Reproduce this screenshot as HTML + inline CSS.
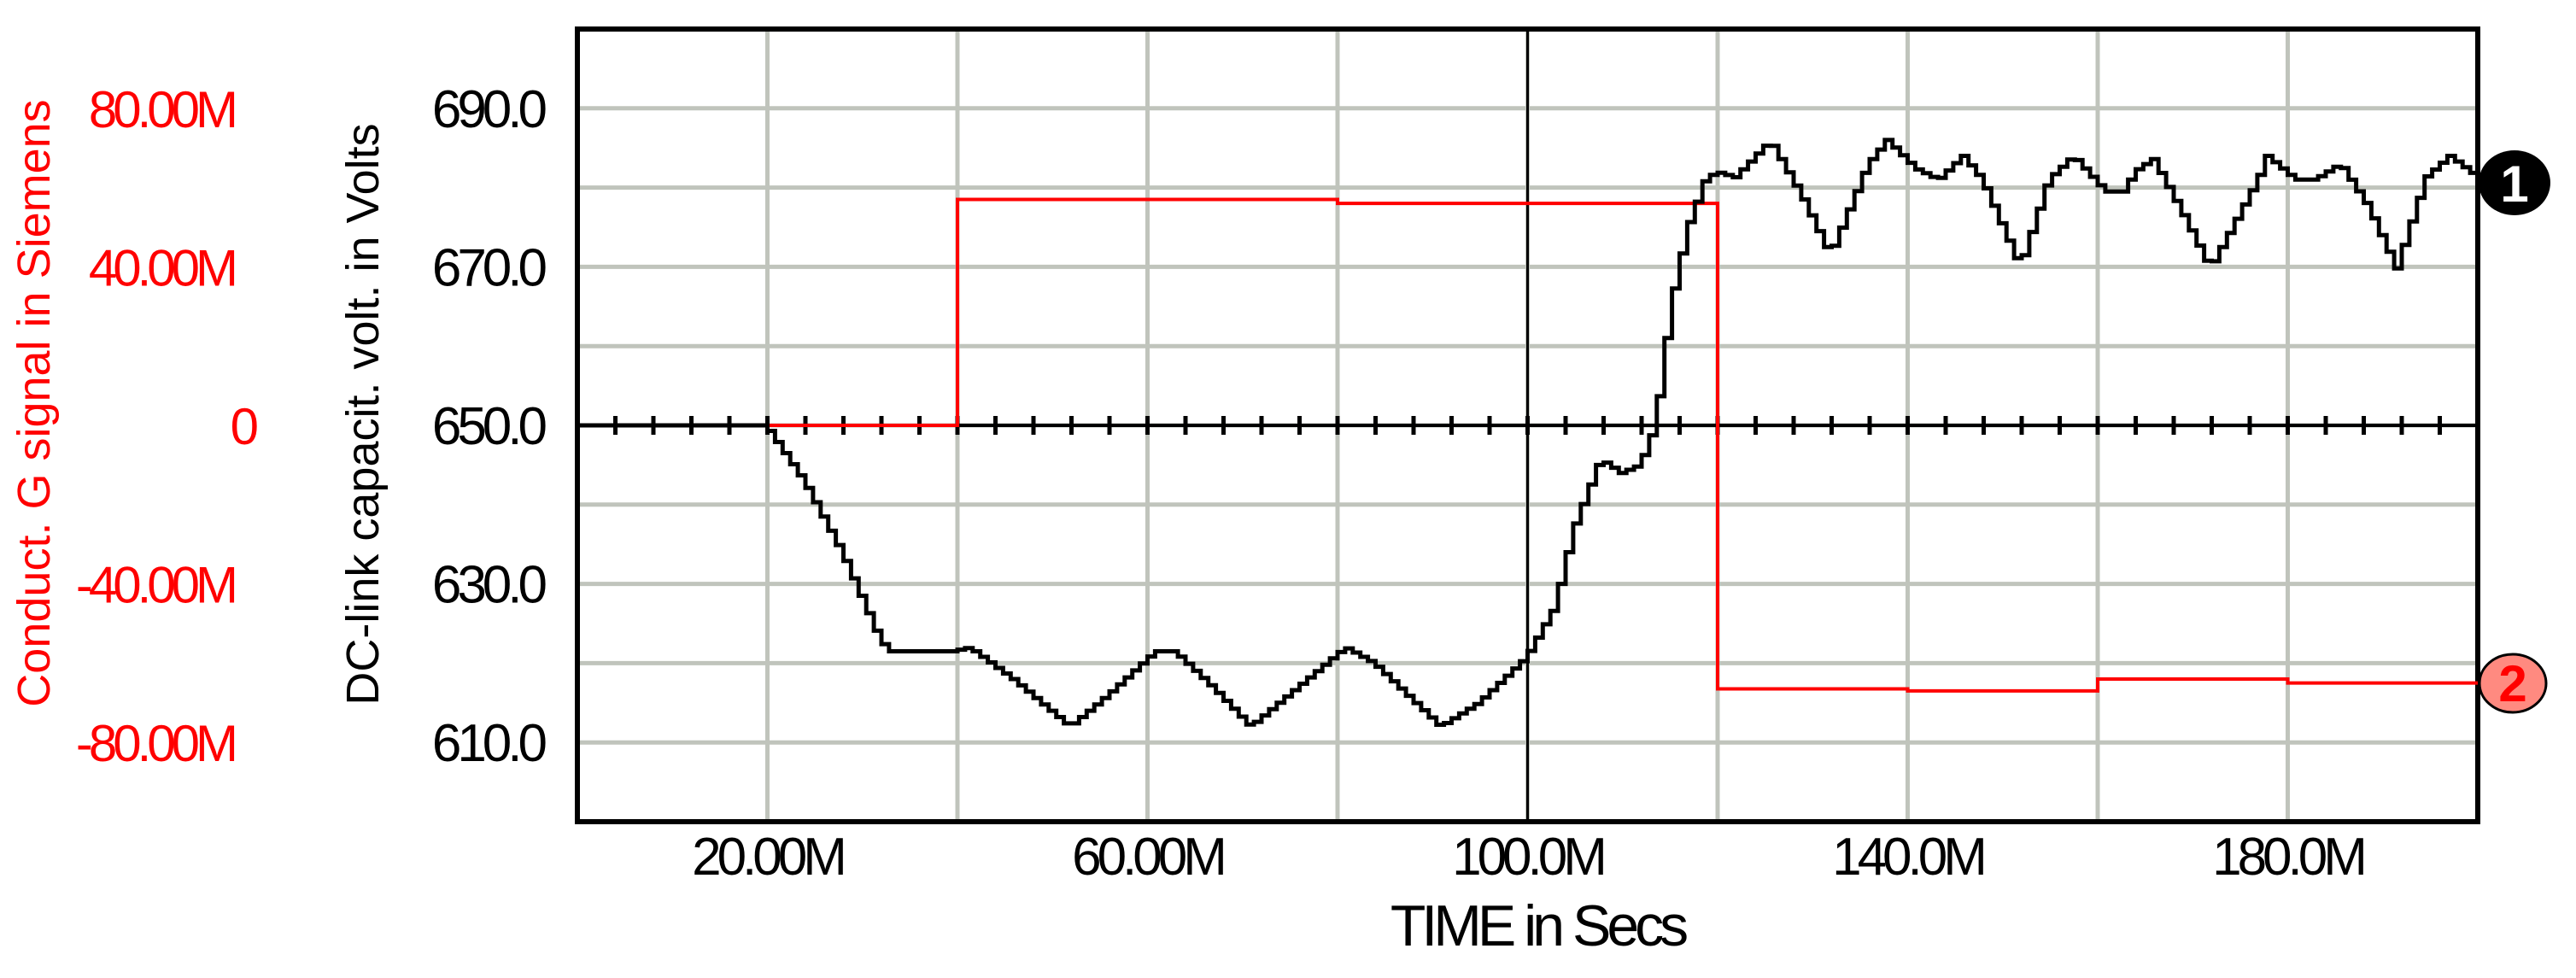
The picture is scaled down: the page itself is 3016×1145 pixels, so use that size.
<!DOCTYPE html>
<html><head><meta charset="utf-8"><style>
html,body{margin:0;padding:0;background:#fff;}
svg{display:block;font-family:"Liberation Sans",Arial,sans-serif;}
</style></head><body>
<svg id="chart" width="3016" height="1145" viewBox="0 0 3016 1145" xmlns="http://www.w3.org/2000/svg">
<g id="grid"></g>
<g id="axes"></g>
<g id="series"></g>
<g id="labels"></g>
</svg>
<script>
const xTickValues = [20, 60, 100, 140, 180];
const xTickLabels = ["20.00M", "60.00M", "100.0M", "140.0M", "180.0M"];
const vTickValues = [690, 670, 650, 630, 610];
const vTickLabels = ["690.0", "670.0", "650.0", "630.0", "610.0"];
const gTickValues = [80, 40, 0, -40, -80];
const gTickLabels = ["80.00M", "40.00M", "0", "-40.00M", "-80.00M"];
// DC-link voltage (time in ms, volts)
const voltT = [0,20,24,28,32,33,40,41,42,46,52,56,61,63,67,71,76,81,84,91,95,100,103,105,107.6,108.4,110,112,113.6,115.3,117,118.8,120,122,125.7,129,132,136,138,141,143.4,146,148,152,155,157.6,161,163,164,166,169,172,177,178,181,183,185.7,188.6,191.6,194.7,197.2,200];
const voltV = [650,650,643,634,623,621.5,621.5,622,621.5,618,612,616,621.5,621.5,617,612,617,622,620,612,615,620.7,627,637,645,645.3,644,645,650,665.6,675,680.8,682,681.3,685.9,679,671.5,683,686,682.4,681,684,681,670,681,684,679.5,679.5,682,683.6,677,669.8,681,684,681,681,683,677.7,669.8,681.3,684,681.5];
// Conductance G signal (step times in ms, values in "M" Siemens)
const gStepT = [0,40,80,120,140,160,180,200];
const gStepV = [0,57,56,-66.5,-67,-64,-65];

const NS="http://www.w3.org/2000/svg";
const L=676,R=2901,T=34,B=962;
const xS=t=>L+(t/200)*(R-L);
const vS=v=>B-(v-600)/100*(B-T);
const gS=g=>vS(650+g/2);
function mk(tag,attrs,parent){const e=document.createElementNS(NS,tag);for(const k in attrs)e.setAttribute(k,attrs[k]);parent.appendChild(e);return e;}
const grid=document.getElementById('grid'),axes=document.getElementById('axes'),series=document.getElementById('series'),labels=document.getElementById('labels');

for(let t=20;t<200;t+=20){const l=mk('line',{x1:xS(t),x2:xS(t),y1:T,y2:B,stroke:'#c0c4bc','stroke-width':5},grid);

}
for(let v=610;v<700;v+=10){const l=mk('line',{x1:L,x2:R,y1:vS(v),y2:vS(v),stroke:'#c0c4bc','stroke-width':5},grid);

}

const zl=mk('line',{x1:L,x2:R,y1:vS(650),y2:vS(650),stroke:'#000','stroke-width':4},axes);


for(let t=4;t<200;t+=4){const k=mk('line',{x1:xS(t),x2:xS(t),y1:vS(650)-11,y2:vS(650)+11,stroke:'#000','stroke-width':5},axes);

}
const vl=mk('line',{x1:xS(100),x2:xS(100),y1:T,y2:B,stroke:'#000','stroke-width':3},axes);



// red step series
let d='M'+xS(gStepT[0])+','+gS(gStepV[0]);
for(let i=0;i<gStepV.length;i++){d+=' L'+xS(gStepT[i])+','+gS(gStepV[i])+' L'+xS(gStepT[i+1])+','+gS(gStepV[i]);}
const gp=mk('path',{d:d,fill:'none',stroke:'#ff0000','stroke-width':4},series);



// voltage series rendered as staircase (simulator plot style) through the data points
function vAt(t){for(let i=1;i<voltT.length;i++){if(voltT[i]>=t){const u=(t-voltT[i-1])/(voltT[i]-voltT[i-1]);return voltV[i-1]+(voltV[i]-voltV[i-1])*u;}}return voltV[voltV.length-1];}
let dv='M'+xS(0).toFixed(1)+','+vS(vAt(0)).toFixed(1);
const step=0.8;
for(let t=step;t<=200.001;t+=step){const y=vS(vAt(t-step/2)).toFixed(1);dv+=' V'+y+' H'+xS(Math.min(t,200)).toFixed(1);}
const vp=mk('path',{d:dv,fill:'none',stroke:'#000','stroke-width':5,'stroke-linejoin':'miter'},series);



const bx=mk('rect',{x:L,y:T,width:R-L,height:B-T,fill:'none',stroke:'#000','stroke-width':6},axes);



xTickValues.forEach((t,i)=>{const e=mk('text',{x:xS(t),y:1024,'font-size':62,'text-anchor':'middle','letter-spacing':-5,fill:'#000'},labels);e.textContent=xTickLabels[i];

});
vTickValues.forEach((v,i)=>{const e=mk('text',{x:636,y:vS(v)+22,'font-size':62,'text-anchor':'end','letter-spacing':-5,fill:'#000'},labels);e.textContent=vTickLabels[i];

});
gTickValues.forEach((g,i)=>{const e=mk('text',{x:g===0?298:274,y:gS(g)+22,'font-size':60,'text-anchor':'end','letter-spacing':-5,fill:'#ff0000'},labels);e.textContent=gTickLabels[i];

});
</script>
<svg style="position:absolute;left:0;top:0" width="3016" height="1145" xmlns="http://www.w3.org/2000/svg">
<text x="1800" y="1107" font-family="Liberation Sans, sans-serif" font-size="68" text-anchor="middle" letter-spacing="-5">TIME in Secs</text>
<text transform="translate(443,485) rotate(-90)" font-family="Liberation Sans, sans-serif" font-size="54" text-anchor="middle">DC-link capacit. volt. in Volts</text>
<text transform="translate(58,472) rotate(-90)" font-family="Liberation Sans, sans-serif" font-size="54" text-anchor="middle" fill="#ff0000">Conduct. G signal in Siemens</text>
<g>
<ellipse cx="2944" cy="214" rx="42" ry="38" fill="#000"/>
<text x="2944" y="236" font-family="Liberation Sans, sans-serif" font-weight="bold" font-size="60" text-anchor="middle" fill="#fff">1</text>
</g>
<g>
<ellipse cx="2942" cy="800" rx="39" ry="34" fill="#ff8a80" stroke="#000" stroke-width="3"/>
<text x="2942" y="821" font-family="Liberation Sans, sans-serif" font-weight="bold" font-size="60" text-anchor="middle" fill="#ff0000">2</text>
</g>
</svg>
</body></html>
